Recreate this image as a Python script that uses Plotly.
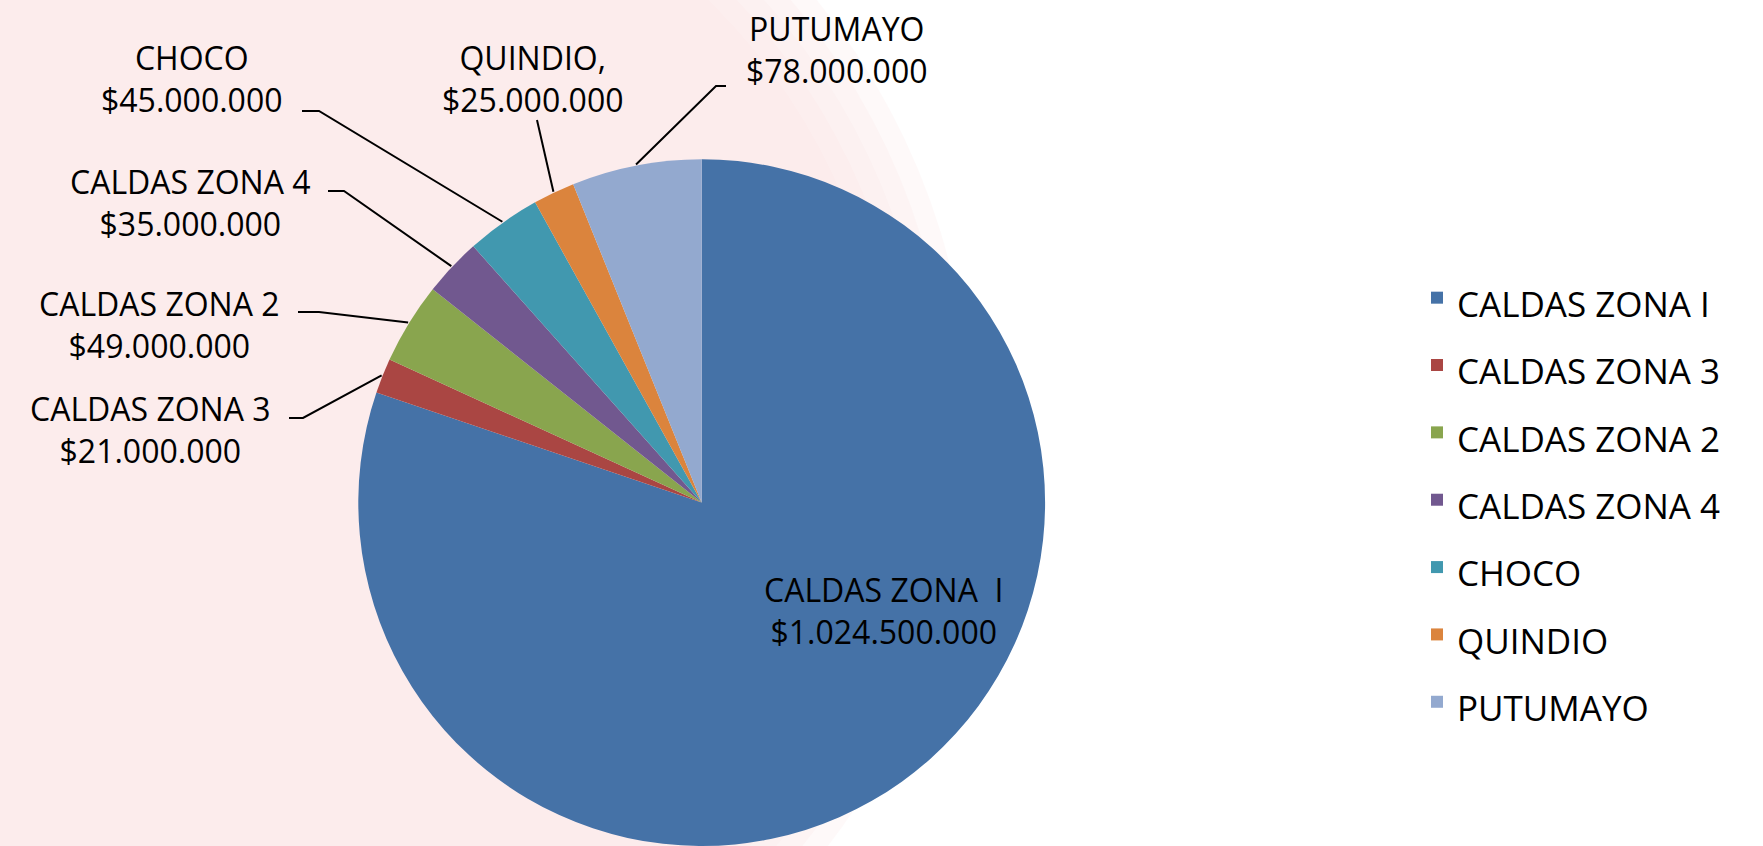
import numpy as np
import plotly.graph_objects as go

# ---- data ----
labels = ["CALDAS ZONA I", "CALDAS ZONA 3", "CALDAS ZONA 2", "CALDAS ZONA 4",
          "CHOCO", "QUINDIO", "PUTUMAYO"]
values = [1024500000, 21000000, 49000000, 35000000, 45000000, 25000000, 78000000]
label_names = ["CALDAS ZONA&nbsp;&nbsp;I", "CALDAS ZONA 3", "CALDAS ZONA 2", "CALDAS ZONA 4",
               "CHOCO", "QUINDIO,", "PUTUMAYO"]
colors = ["#4572A7", "#AA4643", "#89A54E", "#71588F", "#4198AF", "#DB843D", "#93A9CF"]

W, H = 1763, 846
FONT = "Open Sans"


def px(x):
    return x / W


def py(y):
    return 1 - y / H


def money(v):
    return "$" + f"{v:,}".replace(",", ".")


# pie geometry (pixels)
cx, cy = 701.7, 502.6
cy_paper = py(cy)
dom_y = [0.0, 2 * cy_paper]
R = cy_paper * H
dom_x = [px(cx) - 0.2, px(cx) + 0.2]

legend_labels = [f'<span style="font-size:35px">{l}</span>' for l in labels]

fig = go.Figure()
fig.add_trace(go.Pie(
    labels=legend_labels, values=values, sort=False, direction="clockwise", rotation=0,
    marker=dict(colors=colors, line=dict(width=0)),
    textinfo="none", hoverinfo="value+percent",
    domain=dict(x=dom_x, y=dom_y),
))

# label block centers and leader-line stubs (pixels)
label_pos = {
    0: (884, 610),
    1: (150, 430),
    2: (159, 324),
    3: (190, 202),
    4: (191, 78),
    5: (532, 78),
    6: (836, 50),
}
stubs = {
    1: [(289, 418), (303, 418)],
    2: [(298, 312), (319, 312)],
    3: [(328, 191), (344, 191)],
    4: [(302, 111), (319, 111)],
    5: [(537, 120)],
    6: [(726, 86), (716, 86)],
}

annotations = []
shapes = []
# background watermark tint (soft edge)
for rr in [600, 620, 640, 660, 680]:
    shapes.append(dict(type="circle", xref="paper", yref="paper", layer="below",
                       x0=px(290 - rr), x1=px(290 + rr), y0=py(430 + rr), y1=py(430 - rr),
                       fillcolor="rgba(251,231,233,0.25)", line=dict(width=0)))

total = float(sum(values))
cum = np.cumsum([0] + values)
for i, (name, v) in enumerate(zip(label_names, values)):
    lx, ly = label_pos[i]
    annotations.append(dict(
        x=px(lx), y=py(ly), xref="paper", yref="paper", showarrow=False,
        text=f"{name}<br>{money(v)}", align="center",
        font=dict(family=FONT, size=32, color="#000000"),
        xanchor="center", yanchor="middle",
    ))
    if i in stubs:
        mid = (cum[i] + cum[i + 1]) / 2 / total * 2 * np.pi  # clockwise from 12 o'clock
        ex = cx + (R + 1) * np.sin(mid)
        ey = cy - (R + 1) * np.cos(mid)
        pts = stubs[i] + [(ex, ey)]
        path = "M " + " L ".join(f"{px(x):.5f},{py(y):.5f}" for x, y in pts)
        shapes.append(dict(type="path", xref="paper", yref="paper", path=path,
                           line=dict(color="#000000", width=2)))

fig.update_layout(
    width=W, height=H,
    margin=dict(l=0, r=0, t=0, b=0),
    paper_bgcolor="#ffffff", plot_bgcolor="#ffffff",
    showlegend=True,
    legend=dict(x=px(1417), y=py(500), xanchor="left", yanchor="middle",
                font=dict(family=FONT, size=49.5, color="#000000"),
                bgcolor="rgba(0,0,0,0)", itemclick=False),
    annotations=annotations,
    shapes=shapes,
)

fig.write_html("out.html", config={"displayModeBar": False},
               post_script="document.body.style.margin='0px';")
